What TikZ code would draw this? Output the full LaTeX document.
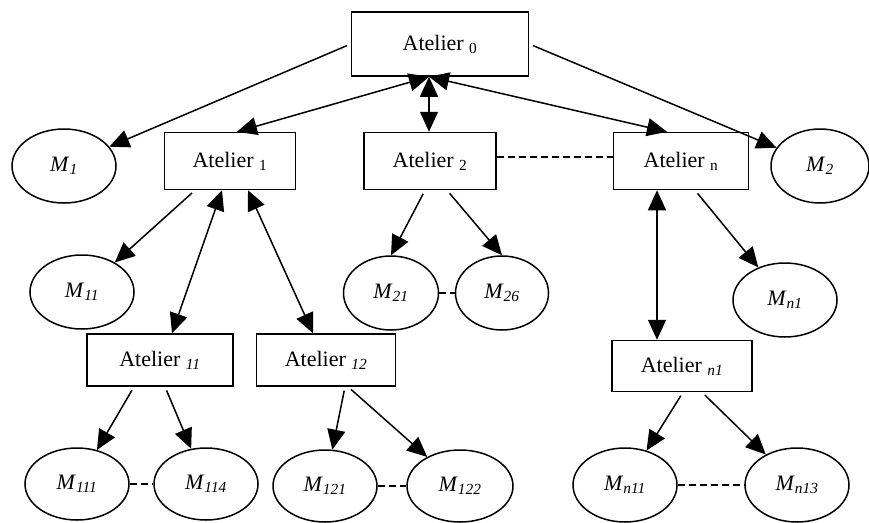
\documentclass[tikz,border=0pt]{standalone}
\usepackage{fontspec}
\setmainfont{Liberation Serif}
\usepackage{tikz}
\usetikzlibrary{arrows.meta,shapes.geometric,positioning}
\tikzstyle{atelier} = [draw, line width=1.5pt, rectangle, minimum height=57pt, inner sep=0pt]
\tikzstyle{machine} = [draw, line width=1.5pt, ellipse, minimum width=104pt, minimum height=74pt, inner sep=0pt]
\tikzstyle{arrow} = [line width=1.5pt, -{Triangle[length=20pt,width=18pt]}, shorten <=4pt]
\tikzstyle{darrow} = [line width=1.5pt, {Triangle[length=20pt,width=18pt]}-{Triangle[length=20pt,width=18pt]}]
\tikzstyle{link} = [line width=1.5pt, dash pattern=on 7pt off 4pt]
\newcommand{\Mlabel}[1]{\textit{M}\textsubscript{\textit{#1}}}

\begin{document}
\begin{tikzpicture}[x=1pt, y=-1pt, font=\fontsize{22}{26}\selectfont]
\useasboundingbox (0,0) rectangle (869,522);
% Top level
\node[atelier, minimum width=177pt, minimum height=64pt] (a0) at (440,44) {Atelier \textsubscript{0}};
\node[machine] (m1) at (64,166) {\Mlabel{1}};
\node[machine, minimum width=98pt] (m2) at (820,166) {\Mlabel{2}};
\node[atelier, minimum width=131pt] (a1) at (230,161) {Atelier \textsubscript{1}};
\node[atelier, minimum width=132pt] (a2) at (430,161) {Atelier \textsubscript{2}};
\node[atelier, minimum width=135pt] (an) at (681,161) {Atelier \textsubscript{n}};

% Second level
\node[machine] (m11) at (82,292) {\Mlabel{11}};
\node[machine, minimum width=95pt] (m21) at (391,293) {\Mlabel{21}};
\node[machine, minimum width=93pt] (m26) at (502,293) {\Mlabel{26}};
\node[machine] (mn1) at (785,300) {\Mlabel{n1}};
\node[atelier, minimum width=146pt, minimum height=52pt] (a11) at (160,360) {Atelier \textsubscript{\textit{11}}};
\node[atelier, minimum width=139pt, minimum height=52pt] (a12) at (326,360) {Atelier \textsubscript{\textit{12}}};
\node[atelier, minimum width=140pt, minimum height=51pt] (an1) at (682,366) {Atelier \textsubscript{\textit{n1}}};

% Third level
\node[machine, minimum height=72pt] (m111) at (77,484) {\Mlabel{111}};
\node[machine, minimum height=72pt] (m114) at (206,484) {\Mlabel{114}};
\node[machine, minimum height=72pt] (m121) at (325,486) {\Mlabel{121}};
\node[machine, minimum height=72pt, minimum width=106pt] (m122) at (460,486) {\Mlabel{122}};
\node[machine] (mn11) at (625,485) {\Mlabel{n11}};
\node[machine] (mn13) at (797,485) {\Mlabel{n13}};

% Arrows
\draw[arrow] (a0.west) -- (m1);
\draw[arrow] (a0.east) -- (m2);
\draw[darrow] ([xshift=-11pt]a0.south) -- ([xshift=7pt]a1.north);
\draw[darrow] ([xshift=-11pt]a0.south) -- ([xshift=-1pt]a2.north);
\draw[darrow] ([xshift=-11pt]a0.south) -- ([xshift=-14pt]an.north);
\draw[arrow] ([xshift=-35pt]a1.south) -- (m11);
\draw[darrow] ([xshift=-8pt]a1.south) -- ([xshift=12pt]a11.north);
\draw[darrow] ([xshift=18pt]a1.south) -- ([xshift=-13pt]a12.north);
\draw[arrow] ([xshift=-5pt]a2.south) -- (m21.north);
\draw[arrow] ([xshift=17pt]a2.south) -- (m26.north);
\draw[arrow] ([xshift=14pt]an.south) -- (mn1);
\draw[darrow] ([xshift=-24pt]an.south) -- ([xshift=-25pt]an1.north);
\draw[arrow] ([xshift=-26pt]a11.south) -- (m111);
\draw[arrow] ([xshift=5pt]a11.south) -- (m114);
\draw[arrow] ([xshift=19pt]a12.south) -- (m121);
\draw[arrow] ([xshift=22pt]a12.south) -- (m122);
\draw[arrow] ([xshift=1pt]an1.south) -- (mn11);
\draw[arrow] ([xshift=20pt]an1.south) -- (mn13);

% Dashed links
\draw[link] ([yshift=4pt]a2.east) -- ([yshift=4pt]an.west);
\draw[link] (m21) -- (m26);
\draw[link] (m111) -- (m114);
\draw[link] (m121) -- (m122);
\draw[link] (mn11) -- (mn13);
\end{tikzpicture}
\end{document}
